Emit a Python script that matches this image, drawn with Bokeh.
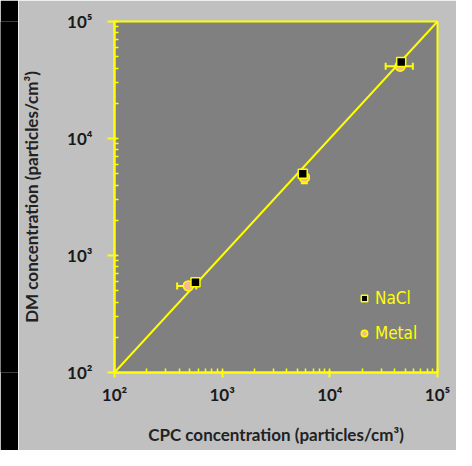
from bokeh.plotting import figure
from bokeh.models import (Range1d, Whisker, TeeHead, ColumnDataSource,
                          Legend, LegendItem, LogTicker)
from bokeh.layouts import row
from bokeh.embed import file_html
from bokeh.resources import INLINE

# ---- data ----
nacl_cpc = [565, 5600, 46000]
nacl_dm = [590, 5000, 45000]
metal_cpc = [485, 5800, 45000]
metal_dm = [550, 4650, 41500]
metal_cpc_lo = [382, 5400, 33000]
metal_cpc_hi = [575, 6300, 59000]
metal_dm_lo = [550, 4150, 41500]
metal_dm_hi = [550, 5250, 41500]
line_x = [1e2, 1e5]
line_y = [1e2, 1e5]
tick_vals = [100, 1000, 10000, 100000]
tick_labels = ["10²", "10³", "10⁴", "10⁵"]

YELLOW = "#FFFF00"
LABEL_FONT = "Lato"

# black strip at left
strip = figure(width=18, height=450, toolbar_location=None, output_backend="svg",
               min_border=0, x_range=(0, 1), y_range=(0, 1))
strip.axis.visible = False
strip.grid.visible = False
strip.background_fill_color = "black"
strip.border_fill_color = "black"
strip.outline_line_color = None
strip.scatter([0.5], [0.5], size=0, alpha=0)

p = figure(width=438, height=450, x_axis_type="log", y_axis_type="log",
           x_range=Range1d(1e2, 1e5), y_range=Range1d(1e2, 1e5),
           toolbar_location=None, output_backend="svg",
           min_border_left=95, min_border_right=19, min_border_top=21, min_border_bottom=78)
p.background_fill_color = "#808080"
p.border_fill_color = "#C0C0C0"
p.outline_line_color = YELLOW
p.outline_line_width = 2
p.grid.visible = False

for ax in (p.xaxis[0], p.yaxis[0]):
    ax.ticker = LogTicker(desired_num_ticks=4, num_minor_ticks=10)
    ax.major_label_overrides = {v: l for v, l in zip(tick_vals, tick_labels)}
    ax.axis_line_color = YELLOW
    ax.axis_line_width = 2
    ax.major_tick_line_color = YELLOW
    ax.major_tick_line_width = 2
    ax.minor_tick_line_color = YELLOW
    ax.minor_tick_line_width = 1.5
    ax.minor_tick_in = 4
    ax.minor_tick_out = 0
    ax.major_label_text_font = LABEL_FONT
    ax.major_label_text_font_style = "bold"
    ax.major_label_text_font_size = "17px"
    ax.major_label_text_color = "#1a1a1a"
    ax.axis_label_text_font = LABEL_FONT
    ax.axis_label_text_font_style = "bold"
    ax.axis_label_text_font_size = "17px"
    ax.axis_label_text_color = "#222222"

p.xaxis.major_tick_in = 2
p.xaxis.major_tick_out = 5
p.xaxis.major_label_standoff = 6
p.xaxis.axis_label = "CPC concentration (particles/cm³)"
p.xaxis.axis_label_standoff = 16
p.yaxis.major_tick_in = 2
p.yaxis.major_tick_out = 7
p.yaxis.major_label_standoff = 15
p.yaxis.axis_label = "DM concentration (particles/cm³)"
p.yaxis.axis_label_standoff = 22

# diagonal line
p.line(line_x, line_y, line_color=YELLOW, line_width=2)

# error bars
src_m = ColumnDataSource(dict(x=metal_cpc, y=metal_dm, xlo=metal_cpc_lo, xhi=metal_cpc_hi,
                              ylo=metal_dm_lo, yhi=metal_dm_hi))
head = dict(size=7, line_color=YELLOW, line_width=2)
wx = Whisker(source=src_m, base="y", lower="xlo", upper="xhi", dimension="width",
             line_color=YELLOW, line_width=2,
             lower_head=TeeHead(**head), upper_head=TeeHead(**head))
wy = Whisker(source=src_m, base="x", lower="ylo", upper="yhi", dimension="height",
             line_color=YELLOW, line_width=2,
             lower_head=TeeHead(**head), upper_head=TeeHead(**head))
p.add_layout(wx)
p.add_layout(wy)

r_m = p.scatter("x", "y", source=src_m, marker="circle", size=10,
                fill_color="#F7B893", line_color=YELLOW, line_width=1.5)
r_n = p.scatter(nacl_cpc, nacl_dm, marker="square", size=9,
                fill_color="black", line_color=YELLOW, line_width=1.5)

legend = Legend(items=[LegendItem(label="NaCl", renderers=[r_n]),
                       LegendItem(label="Metal", renderers=[r_m])],
                location=(242, 29), orientation="vertical",
                background_fill_alpha=0, border_line_color=None,
                padding=0, margin=0, spacing=15,
                glyph_width=16, glyph_height=20, label_height=20,
                label_standoff=3,
                label_text_color=YELLOW,
                label_text_font="Liberation Sans Narrow, DejaVu Sans Condensed, Roboto Condensed, Roboto, sans-serif",
                label_text_font_size="17px")
p.add_layout(legend)

layout = row(strip, p)
open("out.html", "w").write(file_html(layout, INLINE))
